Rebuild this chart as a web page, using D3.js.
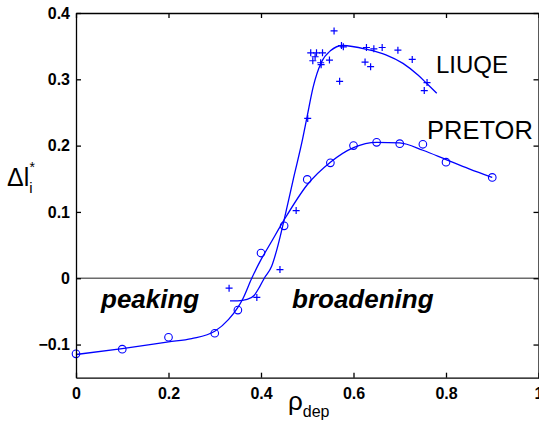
<!DOCTYPE html>
<html><head><meta charset="utf-8">
<script src="https://cdn.jsdelivr.net/npm/d3@7"></script>
<style>
body{margin:0;background:#fff;}
svg{display:block;font-family:"Liberation Sans",Arial,sans-serif;}
</style></head>
<body><svg id="c" width="539" height="426"></svg>
<script>
// ---- data ----
const xTicks = [0, 0.2, 0.4, 0.6, 0.8, 1];
const xTickLabels = ["0", "0.2", "0.4", "0.6", "0.8", "1"];
const yTicks = [-0.1, 0, 0.1, 0.2, 0.3, 0.4];
const yTickLabels = ["\u22120.1", "0", "0.1", "0.2", "0.3", "0.4"];

const pretorX = [0, 0.1, 0.2, 0.3, 0.35, 0.4, 0.45, 0.5, 0.55, 0.6, 0.65, 0.7, 0.75, 0.8, 0.9];
const pretorY = [-0.114, -0.107, -0.089, -0.083, -0.048, 0.038, 0.079, 0.149, 0.174, 0.2, 0.205, 0.203, 0.202, 0.175, 0.152];

const pretorFitX = [0, 0.1, 0.2, 0.25, 0.3, 0.33, 0.35, 0.36, 0.38, 0.4, 0.42, 0.45, 0.5, 0.55, 0.6, 0.65, 0.7, 0.75, 0.8, 0.85, 0.9];
const pretorFitY = [-0.115, -0.106, -0.096, -0.091, -0.08, -0.062, -0.044, -0.032, 0.0, 0.028, 0.052, 0.088, 0.141, 0.175, 0.197, 0.205, 0.204, 0.193, 0.179, 0.165, 0.152];

const liuqeX = [0.331, 0.391, 0.441, 0.476, 0.501, 0.5075, 0.512, 0.517, 0.520, 0.529, 0.530, 0.533, 0.548, 0.558, 0.570, 0.574, 0.578, 0.625, 0.628, 0.637, 0.644, 0.662, 0.696, 0.727, 0.753, 0.759];
const liuqeY = [-0.015, -0.029, 0.013, 0.102, 0.241, 0.340, 0.328, 0.334, 0.340, 0.325, 0.322, 0.340, 0.329, 0.373, 0.297, 0.351, 0.349, 0.326, 0.348, 0.319, 0.346, 0.348, 0.344, 0.330, 0.283, 0.295];

const liuqeFitX = [0.333, 0.35, 0.37, 0.385, 0.397, 0.407, 0.423, 0.435, 0.45, 0.47, 0.49, 0.5, 0.513, 0.53, 0.55, 0.577, 0.63, 0.67, 0.707, 0.74, 0.758, 0.78];
const liuqeFitY = [-0.034, -0.034, -0.032, -0.026, -0.013, 0.0, 0.018, 0.045, 0.088, 0.15, 0.21, 0.245, 0.289, 0.325, 0.343, 0.351, 0.345, 0.337, 0.324, 0.306, 0.294, 0.279];

const seriesLabels = ["LIUQE", "PRETOR"];
const regionLabels = ["peaking", "broadening"];

// ---- layout ----
const svg = d3.select("#c");
const blue = "#0000ff";
const x = d3.scaleLinear().domain([0, 1]).range([76, 538.5]);
const y = d3.scaleLinear().domain([-0.15, 0.4]).range([377.7, 13]);

// zero line
svg.append("line").attr("x1", x(0)).attr("x2", x(1)).attr("y1", y(0)).attr("y2", y(0))
  .attr("stroke", "#6b6b6b").attr("stroke-width", 1.6);

// fit curves
const line = d3.line().x(d => x(d[0])).y(d => y(d[1])).curve(d3.curveMonotoneX);
svg.append("path").datum(pretorFitX.map((v, i) => [v, pretorFitY[i]]))
  .attr("d", line).attr("fill", "none").attr("stroke", blue).attr("stroke-width", 1.3);
svg.append("path").datum(liuqeFitX.map((v, i) => [v, liuqeFitY[i]]))
  .attr("d", line).attr("fill", "none").attr("stroke", blue).attr("stroke-width", 1.3);

// markers
svg.append("g").selectAll("circle").data(pretorX.map((v, i) => [v, pretorY[i]]))
  .join("circle").attr("cx", d => x(d[0])).attr("cy", d => y(d[1])).attr("r", 3.8)
  .attr("fill", "none").attr("stroke", blue).attr("stroke-width", 1.1);
svg.append("g").selectAll("path").data(liuqeX.map((v, i) => [v, liuqeY[i]]))
  .join("path").attr("transform", d => `translate(${x(d[0])},${y(d[1])})`)
  .attr("d", "M-3.5,0H3.5M0,-3.5V3.5").attr("fill", "none").attr("stroke", blue).attr("stroke-width", 1.2);

// axes
const fmtX = d => xTickLabels[xTicks.indexOf(d)];
const fmtY = d => yTickLabels[yTicks.indexOf(d)];
const axStyle = g => {
  g.selectAll("text").attr("font-family", "'Liberation Sans',Arial,sans-serif")
    .attr("font-size", 16).attr("font-weight", "bold").attr("fill", "#000");
  g.selectAll("line,path").attr("stroke", "#000").attr("stroke-width", 1.3);
};
svg.append("g").attr("transform", `translate(0,${y(-0.15)})`)
  .call(d3.axisBottom(x).tickValues(xTicks).tickFormat(fmtX).tickSizeInner(-5).tickSizeOuter(0).tickPadding(10))
  .call(axStyle);
svg.append("g").attr("transform", `translate(0,${y(0.4)})`)
  .call(d3.axisTop(x).tickValues(xTicks).tickFormat("").tickSizeInner(-5).tickSizeOuter(0))
  .call(axStyle);
svg.append("g").attr("transform", `translate(${x(0)},0)`)
  .call(d3.axisLeft(y).tickValues(yTicks).tickFormat(fmtY).tickSizeInner(-5).tickSizeOuter(0).tickPadding(6))
  .call(axStyle);
svg.append("g").attr("transform", `translate(${x(1)},0)`)
  .call(d3.axisRight(y).tickValues(yTicks).tickFormat("").tickSizeInner(-5).tickSizeOuter(0))
  .call(axStyle);

// series labels
svg.append("text").attr("x", 436).attr("y", 73).attr("font-size", 24).text(seriesLabels[0]);
svg.append("text").attr("x", 427).attr("y", 139).attr("font-size", 25.5).text(seriesLabels[1]);

// region labels
svg.append("text").attr("x", 101).attr("y", 308).attr("font-size", 26)
  .attr("font-weight", "bold").attr("font-style", "italic").text(regionLabels[0]);
svg.append("text").attr("x", 292).attr("y", 308).attr("font-size", 26)
  .attr("font-weight", "bold").attr("font-style", "italic").text(regionLabels[1]);

// axis titles
const xt = svg.append("text").attr("x", 288).attr("y", 410).attr("font-size", 26);
xt.append("tspan").text("\u03c1");
xt.append("tspan").attr("dy", 7).attr("font-size", 16).text("dep");

const yt = svg.append("text").attr("x", 7).attr("y", 186).attr("font-size", 25);
yt.append("tspan").text("\u0394l");
yt.append("tspan").attr("dy", 7).attr("font-size", 15).text("i");
yt.append("tspan").attr("dx", -3).attr("dy", -21).attr("font-size", 14).text("*");
</script></body></html>
